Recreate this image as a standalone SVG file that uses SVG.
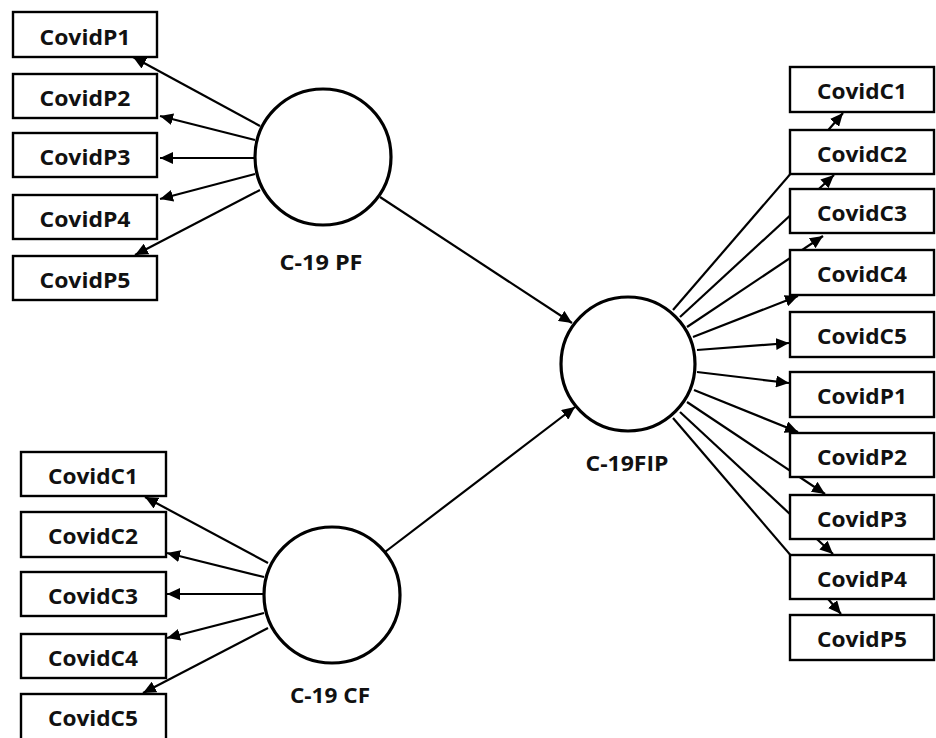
<svg xmlns="http://www.w3.org/2000/svg" width="936" height="738" viewBox="0 0 936 738">
<style>
.box{fill:#fff;stroke:#000;stroke-width:2.4}
.lv{fill:#fff;stroke:#000;stroke-width:3.2}
.t{font-family:"Open Sans","Noto Sans","DejaVu Sans",sans-serif;font-weight:bold;font-size:21px;fill:#111;text-anchor:middle}
.c line{stroke:#000;stroke-width:2.2;marker-end:url(#ah)}
</style>
<defs>
<marker id="ah" markerUnits="userSpaceOnUse" markerWidth="14" markerHeight="12" refX="13" refY="6" orient="auto">
<path d="M0,0 L13,6 L0,12 z" fill="#000"/>
</marker>
</defs>
<g id="connectors" class="c">
<line x1="260" y1="126" x2="133" y2="57"/>
<line x1="255" y1="140" x2="160" y2="116"/>
<line x1="255" y1="158" x2="160" y2="158"/>
<line x1="255" y1="174" x2="160" y2="199"/>
<line x1="260" y1="190" x2="135" y2="255"/>
<line x1="268" y1="563" x2="145" y2="497"/>
<line x1="264" y1="577" x2="167" y2="553"/>
<line x1="264" y1="594" x2="167" y2="594"/>
<line x1="264" y1="613" x2="167" y2="638"/>
<line x1="268" y1="628" x2="143" y2="693"/>
<line x1="380" y1="197" x2="572" y2="323"/>
<line x1="385" y1="552" x2="575" y2="407"/>
<line x1="673" y1="310" x2="843" y2="113"/>
<line x1="680" y1="317" x2="834" y2="175"/>
<line x1="687" y1="327" x2="823" y2="236"/>
<line x1="693" y1="337" x2="798" y2="296"/>
<line x1="697" y1="350" x2="789" y2="343"/>
<line x1="697" y1="372" x2="789" y2="383"/>
<line x1="694" y1="390" x2="798" y2="432"/>
<line x1="687" y1="402" x2="825" y2="494"/>
<line x1="680" y1="412" x2="833" y2="554"/>
<line x1="673" y1="418" x2="841" y2="614"/>
</g>
<g id="pf"><circle class="lv" cx="323" cy="157" r="68"/><text class="t" x="321" y="270" textLength="83" lengthAdjust="spacingAndGlyphs">C-19 PF</text></g>
<g id="cf"><circle class="lv" cx="332" cy="595" r="68"/><text class="t" x="330" y="703" textLength="80" lengthAdjust="spacingAndGlyphs">C-19 CF</text></g>
<g id="fip"><circle class="lv" cx="628" cy="364" r="67"/><text class="t" x="627" y="471" textLength="83" lengthAdjust="spacingAndGlyphs">C-19FIP</text></g>
<g id="lp1"><rect class="box" x="13" y="12" width="144" height="45"/><text class="t" x="85" y="45" textLength="91" lengthAdjust="spacingAndGlyphs">CovidP1</text></g>
<g id="lp2"><rect class="box" x="13" y="74" width="144" height="44"/><text class="t" x="85" y="106" textLength="91" lengthAdjust="spacingAndGlyphs">CovidP2</text></g>
<g id="lp3"><rect class="box" x="13" y="133" width="144" height="44"/><text class="t" x="85" y="165" textLength="91" lengthAdjust="spacingAndGlyphs">CovidP3</text></g>
<g id="lp4"><rect class="box" x="13" y="195" width="144" height="44"/><text class="t" x="85" y="227" textLength="91" lengthAdjust="spacingAndGlyphs">CovidP4</text></g>
<g id="lp5"><rect class="box" x="13" y="256" width="144" height="44"/><text class="t" x="85" y="288" textLength="91" lengthAdjust="spacingAndGlyphs">CovidP5</text></g>
<g id="lc1"><rect class="box" x="21" y="452" width="145" height="44"/><text class="t" x="93" y="484" textLength="90" lengthAdjust="spacingAndGlyphs">CovidC1</text></g>
<g id="lc2"><rect class="box" x="21" y="512" width="145" height="45"/><text class="t" x="93" y="544" textLength="90" lengthAdjust="spacingAndGlyphs">CovidC2</text></g>
<g id="lc3"><rect class="box" x="21" y="572" width="145" height="44"/><text class="t" x="93" y="604" textLength="90" lengthAdjust="spacingAndGlyphs">CovidC3</text></g>
<g id="lc4"><rect class="box" x="21" y="634" width="145" height="44"/><text class="t" x="93" y="666" textLength="90" lengthAdjust="spacingAndGlyphs">CovidC4</text></g>
<g id="lc5"><rect class="box" x="21" y="694" width="145" height="46"/><text class="t" x="93" y="726" textLength="90" lengthAdjust="spacingAndGlyphs">CovidC5</text></g>
<g id="rc1"><rect class="box" x="790" y="67" width="144" height="45"/><text class="t" x="862" y="99" textLength="90" lengthAdjust="spacingAndGlyphs">CovidC1</text></g>
<g id="rc2"><rect class="box" x="790" y="130" width="144" height="44"/><text class="t" x="862" y="162" textLength="90" lengthAdjust="spacingAndGlyphs">CovidC2</text></g>
<g id="rc3"><rect class="box" x="790" y="189" width="144" height="44"/><text class="t" x="862" y="221" textLength="90" lengthAdjust="spacingAndGlyphs">CovidC3</text></g>
<g id="rc4"><rect class="box" x="790" y="250" width="144" height="45"/><text class="t" x="862" y="282" textLength="90" lengthAdjust="spacingAndGlyphs">CovidC4</text></g>
<g id="rc5"><rect class="box" x="790" y="312" width="144" height="45"/><text class="t" x="862" y="344" textLength="90" lengthAdjust="spacingAndGlyphs">CovidC5</text></g>
<g id="rp1"><rect class="box" x="790" y="372" width="144" height="45"/><text class="t" x="862" y="404" textLength="90" lengthAdjust="spacingAndGlyphs">CovidP1</text></g>
<g id="rp2"><rect class="box" x="790" y="433" width="144" height="44"/><text class="t" x="862" y="465" textLength="90" lengthAdjust="spacingAndGlyphs">CovidP2</text></g>
<g id="rp3"><rect class="box" x="790" y="495" width="144" height="44"/><text class="t" x="862" y="527" textLength="90" lengthAdjust="spacingAndGlyphs">CovidP3</text></g>
<g id="rp4"><rect class="box" x="790" y="555" width="144" height="44"/><text class="t" x="862" y="587" textLength="90" lengthAdjust="spacingAndGlyphs">CovidP4</text></g>
<g id="rp5"><rect class="box" x="790" y="615" width="144" height="45"/><text class="t" x="862" y="647" textLength="90" lengthAdjust="spacingAndGlyphs">CovidP5</text></g>
</svg>
